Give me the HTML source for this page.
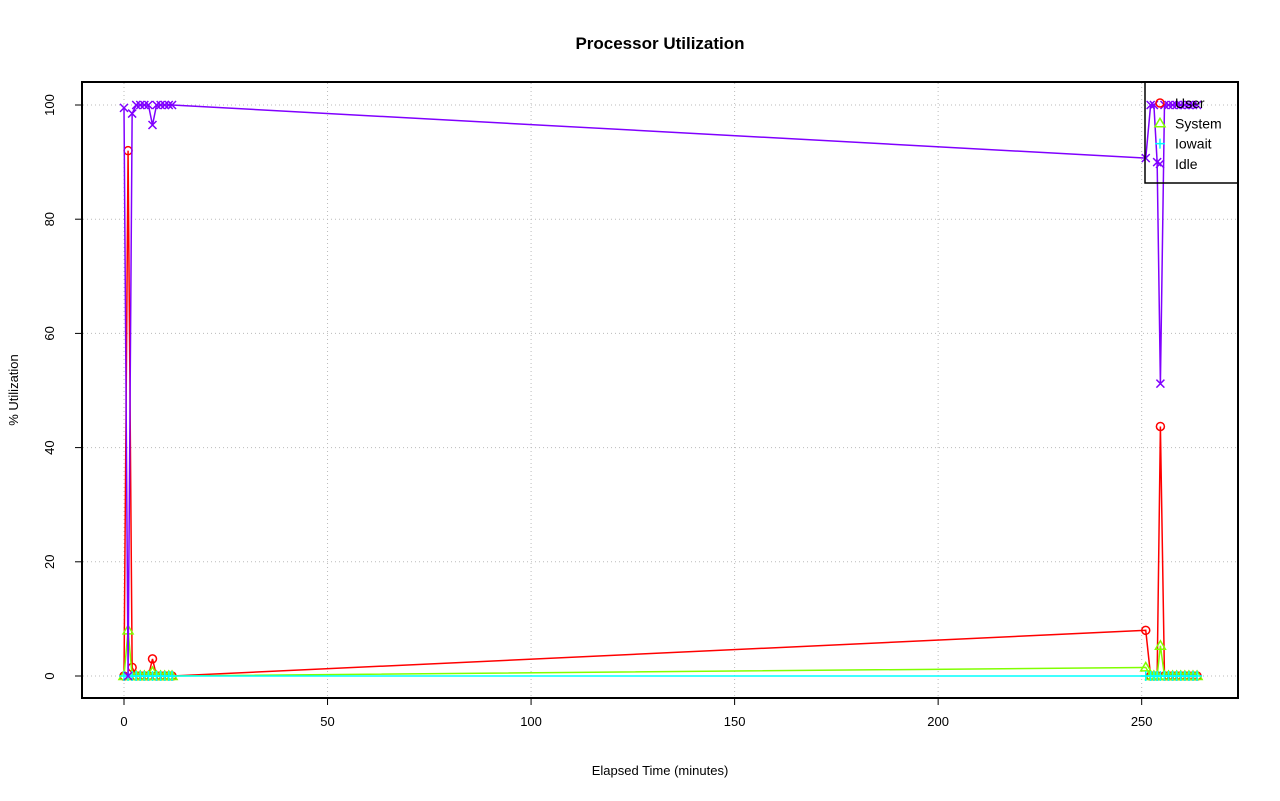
<!DOCTYPE html>
<html><head><meta charset="utf-8"><style>
body{margin:0;background:#fff}
svg{display:block;font-family:"Liberation Sans",Arial,sans-serif}
</style></head><body>
<svg id="s" width="1280" height="801" xmlns="http://www.w3.org/2000/svg">
<rect width="1280" height="801" fill="#fff"/>
<text x="660" y="49" text-anchor="middle" font-weight="bold" font-size="17">Processor Utilization</text>
<g id="grid" stroke="#bbbbbb" stroke-dasharray="1,3" stroke-width="1"></g>
<g id="data"></g>
<rect x="82" y="82" width="1156" height="616" fill="none" stroke="#000" stroke-width="2"/>
<g id="axes" stroke="#000" font-size="13"></g>
<text x="660" y="775" text-anchor="middle" font-size="13">Elapsed Time (minutes)</text>
<text transform="translate(18,390) rotate(-90)" text-anchor="middle" font-size="13">% Utilization</text>
<rect x="1145" y="82" width="93" height="101" fill="none" stroke="#000" stroke-width="1.5"/>
<g id="leg" font-size="14"></g>
</svg>
<script>
const NS="http://www.w3.org/2000/svg";
const X=t=>124+4.0707*t, Y=v=>676-5.71*v;
function el(p,tag,a,txt){const e=document.createElementNS(NS,tag);for(const k in a)e.setAttribute(k,a[k]);if(txt!==undefined)e.textContent=txt;p.appendChild(e);return e;}
const g=document.getElementById('grid'),ax=document.getElementById('axes'),d=document.getElementById('data'),lg=document.getElementById('leg');
for(let t=0;t<=250;t+=50){el(g,'line',{x1:X(t),x2:X(t),y1:83,y2:697});el(ax,'line',{x1:X(t),x2:X(t),y1:698,y2:705});el(ax,'text',{x:X(t),y:726,'text-anchor':'middle',stroke:'none'},t);}
for(let v=0;v<=100;v+=20){el(g,'line',{x1:83,x2:1237,y1:Y(v),y2:Y(v)});el(ax,'line',{x1:75,x2:82,y1:Y(v),y2:Y(v)});el(ax,'text',{transform:`translate(54,${Y(v)}) rotate(-90)`,'text-anchor':'middle',stroke:'none'},v);}
let T=[],U=[],S=[],W=[],I=[];
const L=[[0,0,0,99.5],[1,92,8,0],[2,1.5,0,98.5],[3,0,0,100],[4,0,0,100],[5,0,0,100],[6,0,0,100],[7,3,0.7,96.5],[8,0,0,100],[9,0,0,100],[10,0,0,100],[11,0,0,100],[11.8,0,0,100]];
const R=[[251,8,1.5,90.7],[252.2,0,0,100],[253,0,0,100],[253.8,0,0,90],[254.6,43.7,5.3,51.2]];
for(let t=255.6;t<=263.7;t+=1)R.push([t,0,0,100]);
for(const r of L.concat(R)){T.push(r[0]);U.push(r[1]);S.push(r[2]);W.push(0);I.push(r[3]);}
function series(vals,col,mk){
 el(d,'polyline',{points:T.map((t,i)=>X(t)+','+Y(vals[i])).join(' '),fill:'none',stroke:col,'stroke-width':1.5});
 T.forEach((t,i)=>marker(d,X(t),Y(vals[i]),col,mk));
}
function marker(p,x,y,c,m){
 if(m=='o')el(p,'circle',{cx:x,cy:y,r:4,fill:'none',stroke:c,'stroke-width':1.5});
 if(m=='t')el(p,'polygon',{points:`${x},${y-5} ${x-5},${y+3.5} ${x+5},${y+3.5}`,fill:'none',stroke:c,'stroke-width':1.5});
 if(m=='+')el(p,'path',{d:`M${x-5},${y}h10M${x},${y-5}v10`,stroke:c,'stroke-width':1.5});
 if(m=='x')el(p,'path',{d:`M${x-4},${y-4}l8,8M${x-4},${y+4}l8,-8`,stroke:c,'stroke-width':1.5});
}
series(U,'#ff0000','o');series(S,'#80ff00','t');series(W,'#00ffff','+');series(I,'#8000ff','x');
const items=[['User','#ff0000','o'],['System','#80ff00','t'],['Iowait','#00ffff','+'],['Idle','#8000ff','x']];
items.forEach((it,i)=>{const y=103+20.3*i;marker(lg,1160,y,it[1],it[2]);el(lg,'text',{x:1175,y:y+5},it[0]);});
</script>
</body></html>
